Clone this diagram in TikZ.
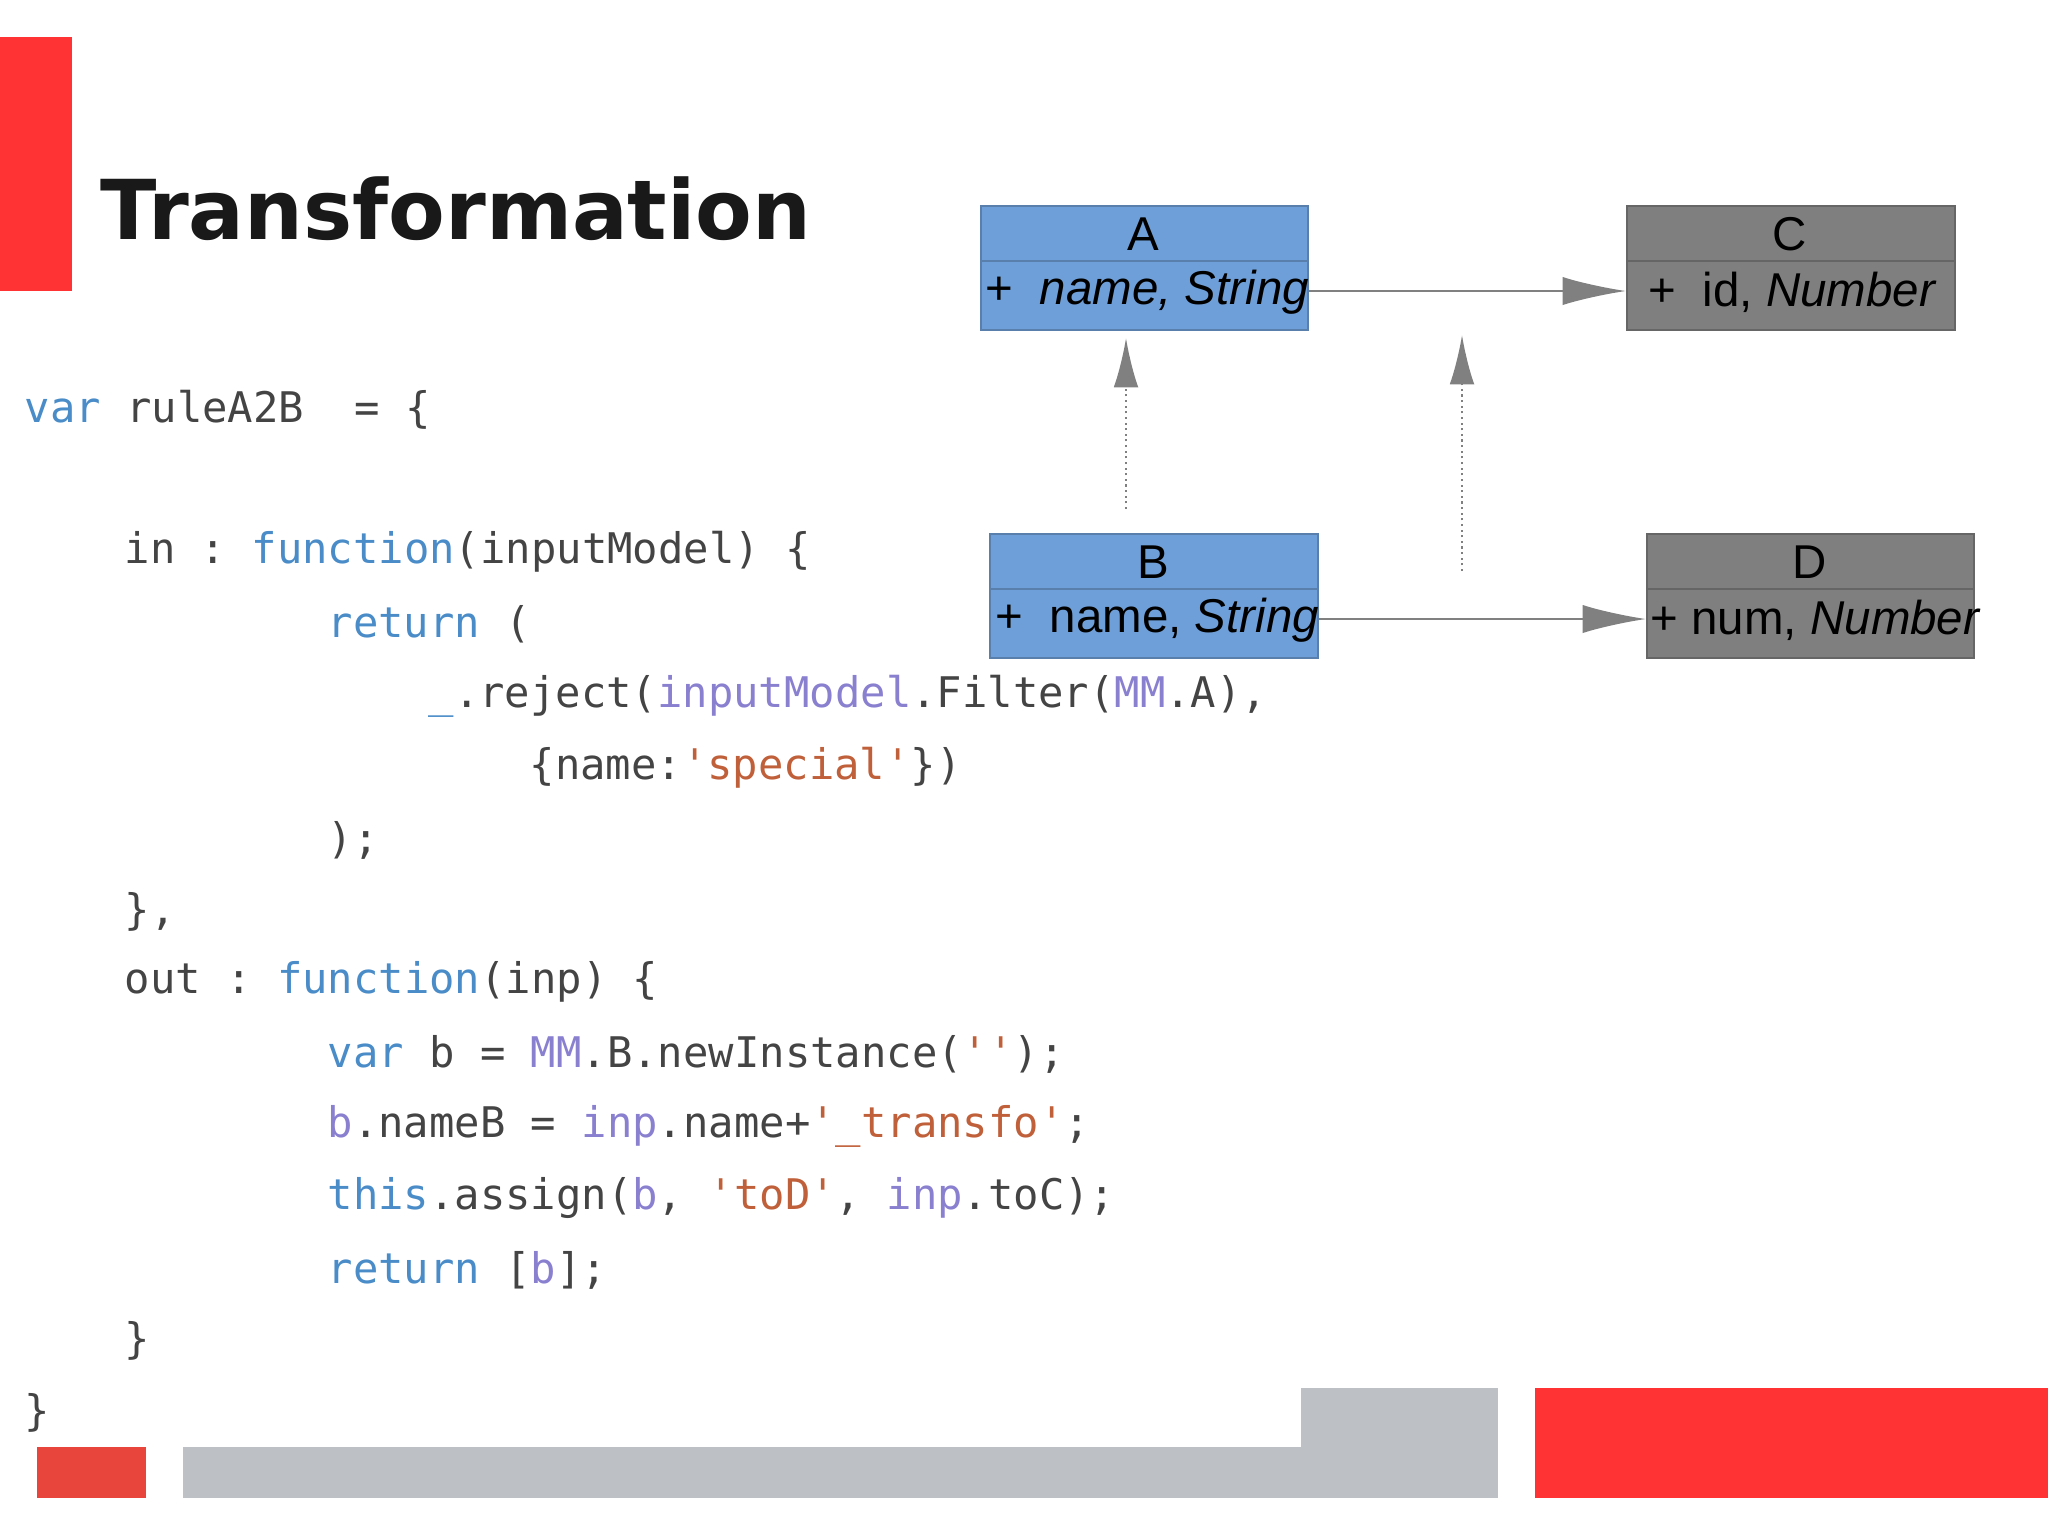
\documentclass[tikz,border=0pt]{standalone}
\usepackage{fontspec}
\setmainfont{Liberation Sans}
\newfontfamily\titlefont{DejaVu Sans}
\newfontfamily\codefont{DejaVu Sans Mono}
\usetikzlibrary{arrows.meta}
\definecolor{kwc}{HTML}{4A8CC8}
\definecolor{idc}{HTML}{8A80D0}
\definecolor{stc}{HTML}{C0603A}
\definecolor{txc}{HTML}{444444}
\definecolor{bfill}{HTML}{6F9FD8}
\definecolor{gfill}{HTML}{7F7F7F}
\definecolor{redc}{HTML}{FF3333}
\definecolor{red2}{HTML}{E8453C}
\definecolor{greyc}{HTML}{BDC1C6}
\newcommand\kw[1]{\textcolor{kwc}{#1}}
\newcommand\idd[1]{\textcolor{idc}{#1}}
\newcommand\stt[1]{\textcolor{stc}{#1}}
\newcommand\qq{\char"27}
\tikzset{
 cl/.style={anchor=west,inner sep=0pt,font=\codefont\fontsize{12}{14}\selectfont,text=txc},
 ubox/.style={draw=#1!80!black,line width=0.6pt,anchor=north west,inner sep=0pt,minimum height=1.24cm},
 utxt/.style={font=\fontsize{13.5}{16}\selectfont,inner sep=0pt},
 dep/.style={densely dotted,draw=gray!70,line width=0.6pt,-{Latex[length=14pt,width=7pt]},color=gray},
 assoc/.style={draw=gray!60,line width=0.6pt,-{Latex[length=18pt,width=8pt]},color=gray}
}
\begin{document}
\begin{tikzpicture}[x=0.01cm,y=-0.01cm]
\useasboundingbox (0,0) rectangle (2048,1535);
\fill[redc] (0,37) rectangle (72,291);
\node[anchor=base west,inner sep=0pt,font=\titlefont\bfseries\fontsize{23.5}{28}\selectfont,text=black!90] (title) at (100,239) {Transformation};
% code
\node[cl] (l1) at (24,410) {\kw{var} ruleA2B\ \ =\ \{};
\node[cl] (l2) at (124,552) {in\ :\ \kw{function}(inputModel)\ \{};
\node[cl] (l3) at (327,624) {\kw{return}\ (};
\node[cl] (l4) at (428,696) {\kw{\_}.reject(\idd{inputModel}.Filter(\idd{MM}.A),};
\node[cl] (l5) at (529,768) {\{name:\stt{\qq special\qq}\})};
\node[cl] (l6) at (327,840) {);};
\node[cl] (l7) at (124,912) {\},};
\node[cl] (l8) at (124,982) {out\ :\ \kw{function}(inp)\ \{};
\node[cl] (l9) at (327,1054) {\kw{var}\ b\ =\ \idd{MM}.B.newInstance(\stt{\qq\qq});};
\node[cl] (l10) at (327,1126) {\idd{b}.nameB\ =\ \idd{inp}.name+\stt{\qq\_transfo\qq};};
\node[cl] (l11) at (327,1198) {\kw{this}.assign(\idd{b},\ \stt{\qq toD\qq},\ \idd{inp}.toC);};
\node[cl] (l12) at (327,1270) {\kw{return}\ [\idd{b}];};
\node[cl] (l13) at (124,1341) {\}};
\node[cl] (l14) at (24,1413) {\}};
% boxes
\node[ubox=bfill,fill=bfill,minimum width=3.27cm] (A) at (980,205) {};
\node[ubox=gfill,fill=gfill,minimum width=3.28cm] (C) at (1626,205) {};
\node[ubox=bfill,fill=bfill,minimum width=3.28cm] (B) at (989,533) {};
\node[ubox=gfill,fill=gfill,minimum width=3.27cm] (D) at (1646,533) {};
\draw[bfill!80!black] (980,261) -- (1307,261);
\draw[gfill!80!black] (1626,261) -- (1954,261);
\draw[bfill!80!black] (989,589) -- (1317,589);
\draw[gfill!80!black] (1646,589) -- (1973,589);
\node[utxt] (At) at (1143,234) {A};
\node[utxt,anchor=west] (Aa) at (985,292) {+\ \ \textit{name, String}};
\node[utxt] (Ct) at (1790,234) {C};
\node[utxt,anchor=west] (Ca) at (1648,292) {+\ \ id, \textit{Number}};
\node[utxt] (Bt) at (1153,562) {B};
\node[utxt,anchor=west] (Ba) at (995,620) {+\ \ name, \textit{String}};
\node[utxt] (Dt) at (1810,562) {D};
\node[utxt,anchor=west] (Da) at (1650,620) {+ num, \textit{Number}};
% connectors
\draw[assoc] (A.east |- 0,291) -- (C.west |- 0,291);
\draw[assoc] (B.east |- 0,619) -- (D.west |- 0,619);
\coordinate (d1s) at (1126,509); \coordinate (d1e) at (1126,338);
\coordinate (d2s) at (1462,571); \coordinate (d2e) at (1462,335);
\draw[dep] (d1s) -- (d1e);
\draw[dep] (d2s) -- (d2e);
% footer
\fill[red2] (37,1447) rectangle (146,1498);
\fill[greyc] (183,1447) rectangle (1301,1498);
\fill[greyc] (1301,1388) rectangle (1498,1498);
\fill[redc] (1535,1388) rectangle (2048,1498);
\end{tikzpicture}
\end{document}
